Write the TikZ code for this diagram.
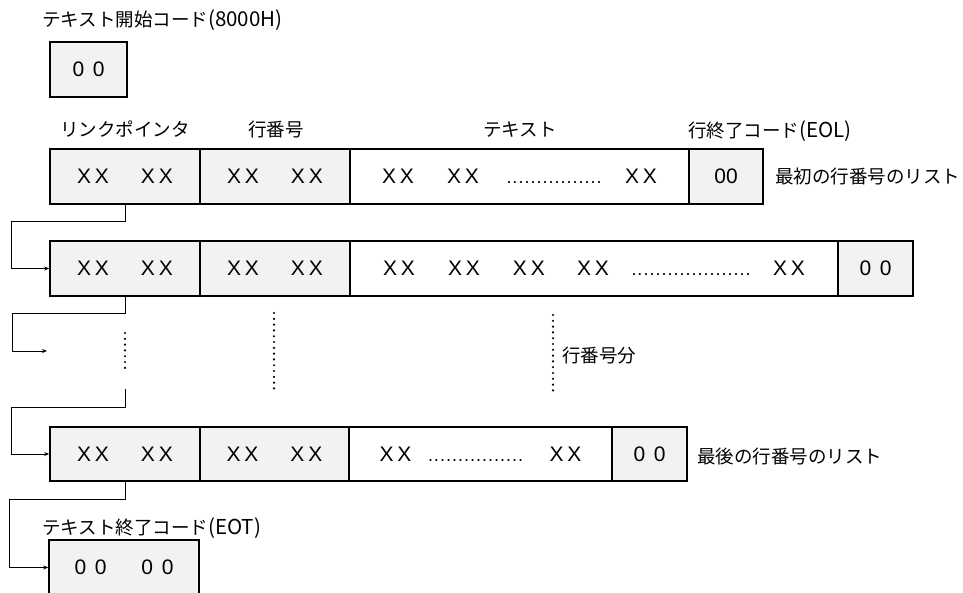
\documentclass[tikz,border=0pt]{standalone}
\usepackage{fontspec}
\setmainfont{Noto Sans CJK JP}
\newfontfamily\cellfont{Liberation Sans}
\usetikzlibrary{arrows.meta}
\newcommand{\xx}{\makebox[32pt]{X\hfill X}}
\newcommand{\zz}{\makebox[32pt]{0\hfill 0}}
\newcommand{\lat}[1]{{\fontsize{20.5}{22}\selectfont #1}}
\newcommand{\dotrun}[1]{\hbox to #1{\leaders\hbox to 6pt{\hss{\fontsize{18}{20}\selectfont.}\hss}\hfill}}
\begin{document}
\begin{tikzpicture}[x=1pt,y=-1pt,
  cell/.style={draw, line width=1.6pt, inner sep=0pt, minimum height=55pt, font=\cellfont\fontsize{21}{24}\selectfont},
  shaded/.style={cell, fill=black!5},
  plain/.style={cell, fill=white},
  lbl/.style={inner sep=0pt, font=\fontsize{18.5}{21}\selectfont},
  conn/.style={line width=1pt, -{Stealth[length=5pt,width=4pt]}},
  vdots/.style={line width=2.4pt, line cap=round, dash pattern=on 0pt off 5.8pt}]
\clip (0,0) rectangle (963,592);
\fill[white] (0,0) rectangle (963,592);

% start code
\node[lbl, anchor=west] (startlbl) at (42,20) {テキスト開始コード\lat{(8000H)}};
\node[shaded, minimum width=77pt] (start) at (88.5,69.5) {\zz};

% column labels
\node[lbl] (hlink) at (125,129) {リンクポインタ};
\node[lbl] (hnum) at (276,129) {行番号};
\node[lbl] (htext) at (520,130) {テキスト};
\node[lbl, anchor=west] (heol) at (688,131) {行終了コード\lat{(EOL)}};

% row 1
\node[shaded, minimum width=150pt] (r1a) at (125,176.5) {\xx\hspace{32pt}\xx};
\node[shaded, minimum width=150pt] (r1b) at (275,176.5) {\xx\hspace{32pt}\xx};
\node[plain, minimum width=339pt] (r1c) at (519.5,176.5) {\hbox to 275pt{\xx\hspace{33pt}\xx\hspace{27pt}\dotrun{97pt}\hspace{22pt}\xx}};
\node[shaded, minimum width=74pt] (r1d) at (726,176.5) {00};
\node[lbl, anchor=west] (first) at (775,176) {最初の行番号のリスト};

% row 2
\node[shaded, minimum width=150pt] (r2a) at (125,268.5) {\xx\hspace{32pt}\xx};
\node[shaded, minimum width=150pt] (r2b) at (275,268.5) {\xx\hspace{32pt}\xx};
\node[plain, minimum width=488pt] (r2c) at (594,268.5) {\hbox to 422pt{\xx\hspace{33pt}\xx\hspace{33pt}\xx\hspace{32pt}\xx\hspace{22pt}\dotrun{120pt}\hspace{22pt}\xx}};
\node[shaded, minimum width=75pt] (r2d) at (875.5,268.5) {\zz};

% omitted rows
\coordinate (gapin) at (47,351);
\coordinate (gapout) at (125,389);
\coordinate (d1top) at (125,333);
\coordinate (d1bot) at (125,368);
\coordinate (d2top) at (274,313);
\coordinate (d2bot) at (274,390);
\coordinate (d3top) at (553,315);
\coordinate (d3bot) at (553,392);
\draw[vdots] (d1top) -- (d1bot);
\draw[vdots] (d2top) -- (d2bot);
\draw[vdots] (d3top) -- (d3bot);
\node[lbl, anchor=west] (count) at (562,355) {行番号分};

% row 3
\node[shaded, minimum width=150pt, minimum height=54pt] (r3a) at (125,454) {\xx\hspace{32pt}\xx};
\node[shaded, minimum width=149pt, minimum height=54pt] (r3b) at (274.5,454) {\xx\hspace{32pt}\xx};
\node[plain, minimum width=263pt, minimum height=54pt] (r3c) at (480.5,454) {\hbox to 202pt{\xx\hspace{16pt}\dotrun{100pt}\hspace{22pt}\xx}};
\node[shaded, minimum width=75pt, minimum height=54pt] (r3d) at (649.5,454) {\zz};
\node[lbl, anchor=west] (last) at (697,456) {最後の行番号のリスト};

% end code
\node[lbl, anchor=west] (eotlbl) at (42,528) {テキスト終了コード\lat{(EOT)}};
\node[shaded, minimum width=150pt] (eot) at (124,567.5) {\zz\hspace{35pt}\zz\hspace{18pt}};

% link pointers
\draw[conn] (r1a.south) -- ++(0,17) -| ([xshift=-38pt]r2a.west) -- (r2a.west);
\draw[conn] (r2a.south) -- ++(0,17) -| ([xshift=-35pt]gapin) -- (gapin);
\draw[conn] (gapout) -- ++(0,18) -| ([xshift=-38pt]r3a.west) -- (r3a.west);
\draw[conn] (r3a.south) -- ++(0,18) -| ([xshift=-39pt]eot.west) -- (eot.west);
\end{tikzpicture}
\end{document}
